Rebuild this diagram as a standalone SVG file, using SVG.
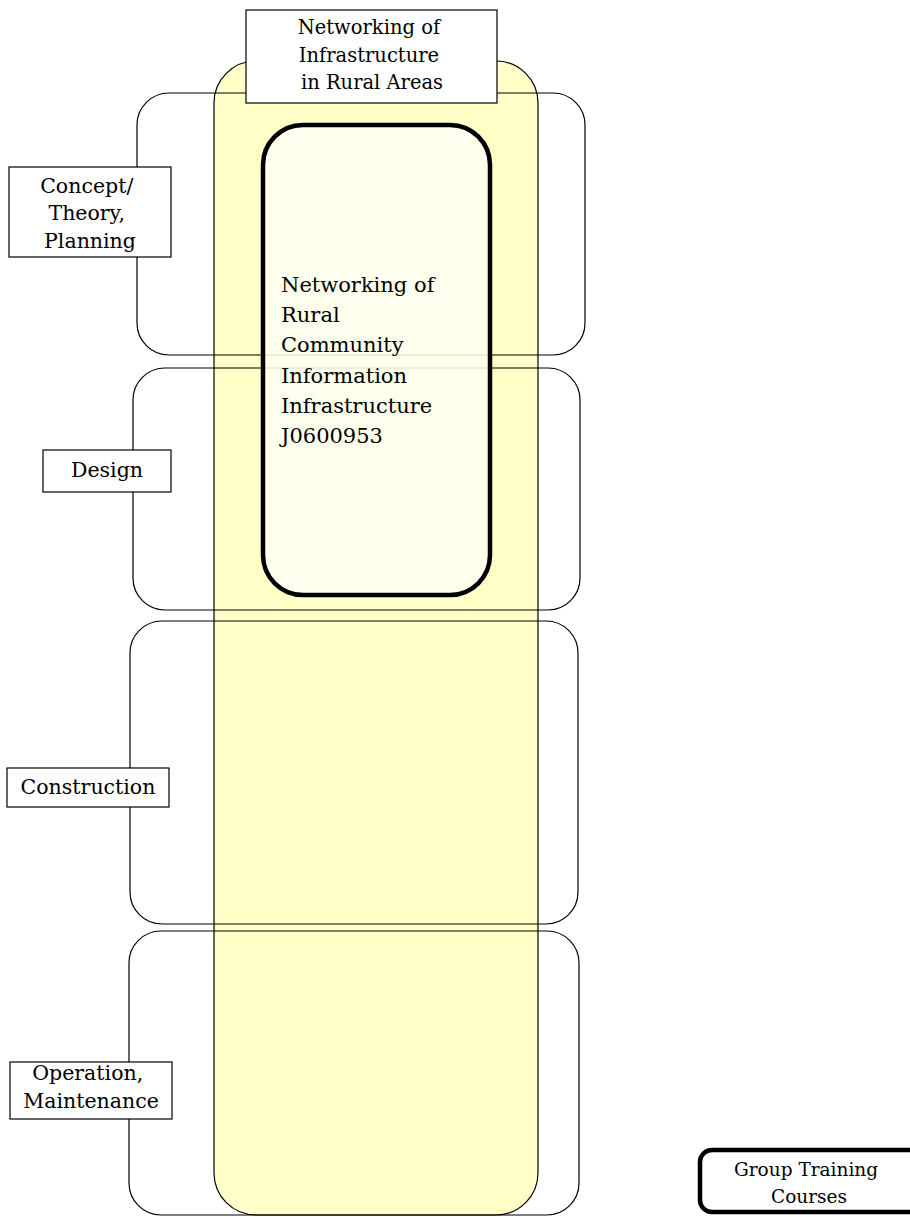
<svg xmlns="http://www.w3.org/2000/svg" width="910" height="1217" viewBox="0 0 910 1217">
<style>
.t{font-family:"DejaVu Serif","Liberation Serif",serif;fill:#000}
.row{fill:none;stroke:#000;stroke-width:1.2}
.lbl{fill:#fff;stroke:#000;stroke-width:1.2}
</style>
<rect width="910" height="1217" fill="#fff"/>
<g id="column">
<rect x="214" y="61" width="324" height="1154" rx="42" fill="#ffffc8" stroke="#000" stroke-width="1.2"/>
</g>
<g id="rows">
<rect id="row-concept" class="row" x="137" y="93" width="448" height="262" rx="32"/>
<rect id="row-design" class="row" x="133" y="368" width="447" height="242" rx="32"/>
<rect id="row-construction" class="row" x="130" y="621" width="448" height="303" rx="32"/>
<rect id="row-operation" class="row" x="129" y="931" width="450" height="284" rx="32"/>
</g>
<g id="connectors"></g>
<g id="course">
<rect x="263" y="125" width="227" height="470" rx="40" fill="#fffff4" fill-opacity="0.85" stroke="#000" stroke-width="4.5"/>
<text class="t" font-size="21">
<tspan x="281" y="292">Networking of</tspan>
<tspan x="281" y="322">Rural</tspan>
<tspan x="281" y="352">Community</tspan>
<tspan x="281" y="383">Information</tspan>
<tspan x="281" y="413">Infrastructure</tspan>
<tspan x="281" y="443">J0600953</tspan>
</text>
</g>
<g id="title">
<rect class="lbl" x="246" y="10" width="251" height="93"/>
<text class="t" font-size="19.5" text-anchor="middle">
<tspan x="372" y="34">Networking of</tspan>
<tspan x="372" y="62">Infrastructure</tspan>
<tspan x="372" y="89">in Rural Areas</tspan>
</text>
</g>
<g id="label-concept">
<rect class="lbl" x="9" y="167" width="162" height="90"/>
<text class="t" font-size="20.5" text-anchor="middle">
<tspan x="90" y="193">Concept/</tspan>
<tspan x="90" y="220">Theory,</tspan>
<tspan x="90" y="248">Planning</tspan>
</text>
</g>
<g id="label-design">
<rect class="lbl" x="43" y="450" width="128" height="42"/>
<text class="t" font-size="20.5" text-anchor="middle" x="107" y="477">Design</text>
</g>
<g id="label-construction">
<rect class="lbl" x="7" y="768" width="162" height="39"/>
<text class="t" font-size="20.5" text-anchor="middle" x="88" y="794">Construction</text>
</g>
<g id="label-operation">
<rect class="lbl" x="10" y="1062" width="162" height="57"/>
<text class="t" font-size="20.5" text-anchor="middle">
<tspan x="91" y="1080">Operation,</tspan>
<tspan x="91" y="1108">Maintenance</tspan>
</text>
</g>
<g id="group-training">
<rect x="700" y="1150" width="240" height="62" rx="12" fill="#fff" stroke="#000" stroke-width="4.5"/>
<text class="t" font-size="18.5" text-anchor="middle">
<tspan x="809" y="1176">Group Training</tspan>
<tspan x="809" y="1203">Courses</tspan>
</text>
</g>
</svg>
